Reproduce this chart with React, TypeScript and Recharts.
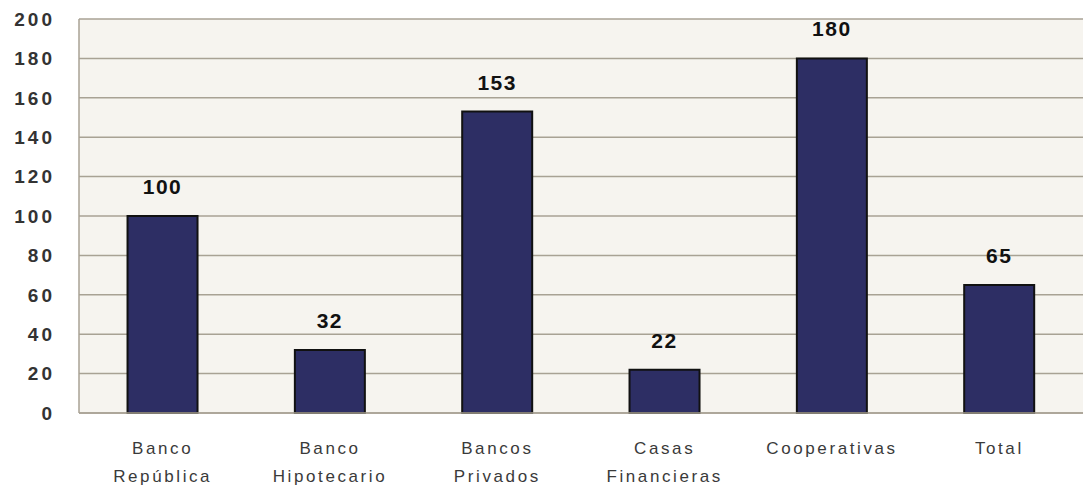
import React from "react";
import { BarChart, Bar, XAxis, YAxis, CartesianGrid, LabelList } from "recharts";

const categories = ["Banco República", "Banco Hipotecario", "Bancos Privados", "Casas Financieras", "Cooperativas", "Total"];
const tickLines = [
  ["Banco", "República"],
  ["Banco", "Hipotecario"],
  ["Bancos", "Privados"],
  ["Casas", "Financieras"],
  ["Cooperativas", ""],
  ["Total", ""],
];
const values = [100, 32, 153, 22, 180, 65];
const yTicks = [0, 20, 40, 60, 80, 100, 120, 140, 160, 180, 200];

const data = categories.map((c, i) => ({ name: c, value: values[i], idx: i }));

const XTick = (props: any) => {
  const { x, y, payload } = props;
  const lines = tickLines[payload.index] || [payload.value, ""];
  return (
    <g transform={`translate(${x},${y})`}>
      {lines.map((l: string, i: number) =>
        l ? (
          <text
            key={i}
            x={0}
            y={33 + i * 28}
            textAnchor="middle"
            fill="#3a3a3a"
            fontSize={17}
            letterSpacing={2.6}
            fontFamily="Liberation Sans, Arial, sans-serif"
          >
            {l}
          </text>
        ) : null
      )}
    </g>
  );
};

export default function App() {
  return (
    <div style={{ position: "absolute", left: 0, top: 0, background: "#fff" }}>
      <BarChart
        width={1087}
        height={495}
        data={data}
        margin={{ top: 19, right: 4, left: 0, bottom: 0 }}
        barCategoryGap="29%"
      >
        <CartesianGrid vertical={false} stroke="#a8a294" strokeWidth={1.5} fill="#f6f4ef" />
        <XAxis
          dataKey="name"
          height={82}
          tickLine={false}
          axisLine={{ stroke: "#a8a294", strokeWidth: 1.5 }}
          interval={0}
          tick={<XTick />}
        />
        <YAxis
          width={79}
          domain={[0, 200]}
          ticks={yTicks}
          interval={0}
          tickLine={false}
          tickSize={0}
          tickMargin={24}
          axisLine={{ stroke: "#a8a294", strokeWidth: 1.5 }}
          tick={{ fill: "#333", fontSize: 19, fontWeight: 700, letterSpacing: 3, fontFamily: "Liberation Sans, Arial, sans-serif" }}
        />
        <Bar dataKey="value" fill="#2d2e64" stroke="#111" strokeWidth={2} isAnimationActive={false}>
          <LabelList
            dataKey="value"
            position="top"
            offset={22}
            fill="#111"
            fontSize={21}
            fontWeight={700}
            letterSpacing={1.5}
            fontFamily="Liberation Sans, Arial, sans-serif"
          />
        </Bar>
      </BarChart>
    </div>
  );
}
